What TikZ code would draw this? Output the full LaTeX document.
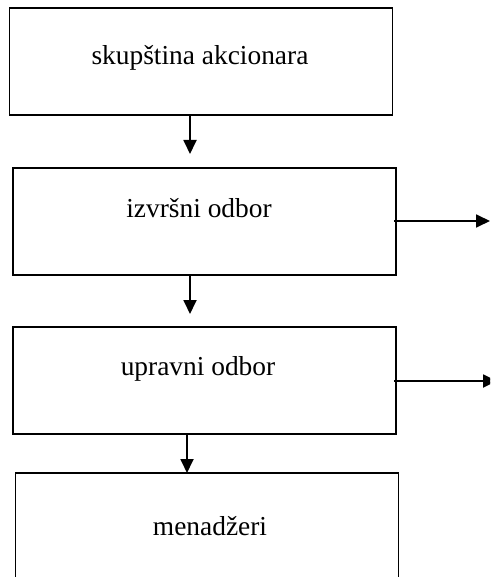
\documentclass[tikz,border=0pt]{standalone}
\usepackage{fontspec}
\setmainfont{Liberation Serif}
\usetikzlibrary{arrows.meta}
\begin{document}
\begin{tikzpicture}[x=1pt,y=-1pt,
  orgbox/.style={draw=black,line width=1.8pt,minimum width=383pt,minimum height=107pt,inner sep=0pt},
  lbl/.style={anchor=base,inner sep=0pt,font=\fontsize{27.4}{32}\selectfont},
  arr/.style={line width=1.8pt,-{Triangle[width=13pt,length=14pt]}}]
\useasboundingbox (0,0) rectangle (490,577);
\clip (0,0) rectangle (490,577);
% boxes of the hierarchy
\node[orgbox] (b1) at (201,61.5) {};
\node[orgbox] (b2) at (204.5,221.5) {};
\node[orgbox] (b3) at (204.5,380.5) {};
\node[orgbox] (b4) at (207,526.5) {};
% labels
\node[lbl] (t1) at (200,65) {skupština akcionara};
\node[lbl] (t2) at (199,217) {izvršni odbor};
\node[lbl] (t3) at (198,375) {upravni odbor};
\node[lbl] (t4) at (210,535) {menadžeri};
% arrow end points
\coordinate (d1) at (190,154);
\coordinate (d2) at (190,314);
\coordinate (d3) at (187,473);
\coordinate (r1) at (490,221);
\coordinate (r2) at (497,381);
% downward arrows
\draw[arr] (b1.south -| d1) -- (d1);
\draw[arr] (b2.south -| d2) -- (d2);
\draw[arr] (b3.south -| d3) -- (d3);
% side arrows
\draw[arr] ([xshift=-3pt]b2.east |- r1) -- (r1);
\draw[arr] ([xshift=-3pt]b3.east |- r2) -- (r2);
\end{tikzpicture}
\end{document}
